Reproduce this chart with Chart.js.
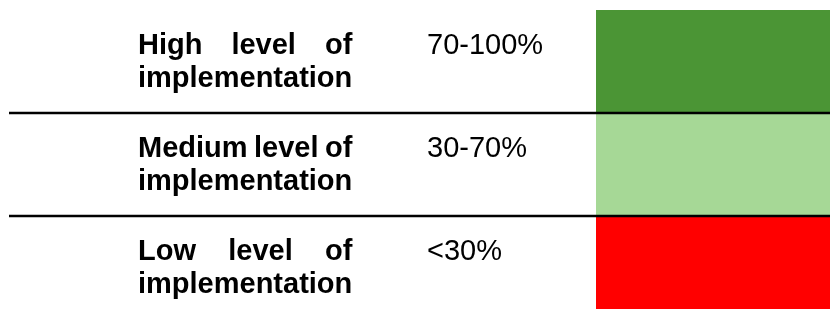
<!DOCTYPE html>
<html>
<head>
<meta charset="utf-8">
<script src="https://cdn.jsdelivr.net/npm/chart.js@4/dist/chart.umd.min.js"></script>
<style>
    html, body { margin: 0; padding: 0; background: #fff; overflow: hidden; }
    #wrap { width: 830px; height: 309px; overflow: hidden; }
</style>
</head>
<body>
<div id="wrap">
    <canvas id="legendChart" width="830" height="320"></canvas>
</div>
<script>
// rows of the legend table
const levelNames = ['High level of implementation', 'Medium level of implementation', 'Low level of implementation'];
const rangeLabels = ['70-100%', '30-70%', '<30%'];
const swatchColors = ['#4B9535', '#A6D896', '#FF0000'];
const swatchValues = [1, 1, 1];

// draws the text columns and the separator lines, using the y scale rows
const tableTextPlugin = {
    id: 'tableText',
    afterDatasetsDraw(chart) {
        const ctx = chart.ctx;
        const yScale = chart.scales.y;
        const rowH = Math.abs(yScale.getPixelForValue(1) - yScale.getPixelForValue(0));

        ctx.save();
        ctx.fillStyle = '#000';
        ctx.textBaseline = 'alphabetic';
        ctx.textAlign = 'left';

        levelNames.forEach((name, i) => {
            const top = yScale.getPixelForValue(i) - rowH / 2;
            const words = name.split(' ');
            const lastWord = words.pop();

            // name column, first line justified to the width of the second
            ctx.font = 'bold 29px "Liberation Sans", Arial, sans-serif';
            const x0 = 138;
            const fullW = ctx.measureText(lastWord).width;
            const wordW = words.map(w => ctx.measureText(w).width);
            const gap = (fullW - wordW.reduce((a, b) => a + b, 0)) / (words.length - 1);
            let x = x0;
            words.forEach((w, k) => {
                ctx.fillText(w, x, top + 44);
                x += wordW[k] + gap;
            });
            ctx.fillText(lastWord, x0, top + 77);

            // range column
            ctx.font = '29px "Liberation Sans", Arial, sans-serif';
            ctx.fillText(rangeLabels[i], 427, top + 44);
        });

        // lines between rows
        ctx.strokeStyle = '#000';
        ctx.lineWidth = 2.5;
        for (let i = 0; i < levelNames.length - 1; i++) {
            const y = yScale.getPixelForValue(i) + rowH / 2;
            ctx.beginPath();
            ctx.moveTo(9, y);
            ctx.lineTo(830, y);
            ctx.stroke();
        }
        ctx.restore();
    }
};

function createLegendChart() {
    const ctx = document.getElementById('legendChart').getContext('2d');

    new Chart(ctx, {
        type: 'bar',
        data: {
            labels: levelNames,
            datasets: [{
                data: swatchValues,
                backgroundColor: swatchColors,
                borderWidth: 0,
                barPercentage: 1,
                categoryPercentage: 1
            }]
        },
        options: {
            indexAxis: 'y',
            responsive: false,
            animation: false,
            layout: { padding: { left: 596, right: 0, top: 10, bottom: 1 } },
            scales: {
                x: { display: false, min: 0, max: 1 },
                y: { display: false }
            },
            plugins: {
                legend: { display: false },
                tooltip: { enabled: false }
            }
        },
        plugins: [tableTextPlugin]
    });
}

createLegendChart();
</script>
</body>
</html>
